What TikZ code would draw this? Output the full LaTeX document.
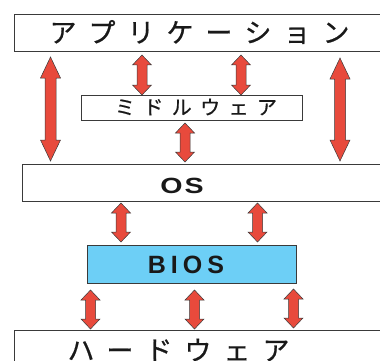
\documentclass[tikz,border=0pt]{standalone}
\usepackage{fontspec}
\newfontfamily\jpfont[FakeBold=0.6]{Noto Sans CJK JP}
\newfontfamily\latinwide[FakeStretch=1.3]{Liberation Sans}
\newfontfamily\latinfont{Liberation Sans}
\usetikzlibrary{calc}

\definecolor{arrowred}{HTML}{E84A3C}
\definecolor{edgegray}{HTML}{3A3A3A}
\definecolor{biosblue}{HTML}{6DCFF6}

% letter-spaced text: gap inserted between characters, none after the last
\makeatletter
\newcommand\spreadtext[2]{\def\spread@gap{#1}\spread@loop#2\relax}
\def\spread@loop#1{#1\futurelet\spread@next\spread@check}
\def\spread@check{\ifx\spread@next\relax\expandafter\spread@end\else\hspace{\spread@gap}\expandafter\spread@loop\fi}
\def\spread@end\relax{}
\makeatother

% vertical double block arrow between two tip points
% #1 upper tip, #2 lower tip, #3 half shaft, #4 half head, #5 head length
\newcommand\dblarrow[5]{%
  \filldraw[arrowbody] let \p1=(#1), \p2=(#2) in
    (\p1) -- (\x1+#4,\y1-#5) -- (\x1+#3,\y1-#5) -- (\x1+#3,\y2+#5)
    -- (\x1+#4,\y2+#5) -- (\p2) -- (\x1-#4,\y2+#5) -- (\x1-#3,\y2+#5)
    -- (\x1-#3,\y1-#5) -- (\x1-#4,\y1-#5) -- cycle;}

\tikzset{
  layer/.style={draw=edgegray, line width=0.9pt, fill=white, inner sep=0pt},
  label/.style={inner sep=0pt, text=black!90},
  arrowbody/.style={fill=arrowred, draw=edgegray, line width=0.5pt, line join=miter},
}

\begin{document}
\begin{tikzpicture}[x=1pt, y=-1pt]
\useasboundingbox (0,0) rectangle (380,361);
\clip (0,0) rectangle (380,361);

% layers
\node[layer, minimum width=390pt, minimum height=37pt] (app) at (209,32.5) {};
\node[layer, minimum width=221pt, minimum height=25pt] (mw) at (191.5,107.5) {};
\node[layer, minimum width=380pt, minimum height=37pt] (os) at (212,183) {};
\node[layer, fill=biosblue, minimum width=209pt, minimum height=38pt] (bios) at (191.5,264) {};
\node[layer, minimum width=390pt, minimum height=40pt] (hw) at (209,350) {};

% layer names
\node[label, font=\jpfont\fontsize{27}{27}\selectfont] (appname) at (199.5,32) {\spreadtext{12pt}{アプリケーション}};
\node[label, font=\jpfont\fontsize{20}{20}\selectfont] (mwname) at (196,107) {\spreadtext{8.4pt}{ミドルウェア}};
\node[label, font=\latinwide\bfseries\fontsize{22}{22}\selectfont, anchor=base] (osname) at (182,193) {\spreadtext{2pt}{OS}};
\node[label, font=\latinfont\bfseries\fontsize{25}{25}\selectfont, anchor=base] (biosname) at (186,273) {\spreadtext{5pt}{BIOS}};
\node[label, font=\jpfont\fontsize{27}{27}\selectfont] (hwname) at (178.5,350) {\spreadtext{12pt}{ハードウェア}};

% arrow tips
\coordinate (a1t) at (50.5,57);  \coordinate (a1b) at (50.5,161);
\coordinate (a2t) at (340,58);   \coordinate (a2b) at (340,161);
\coordinate (b1t) at (142,55);   \coordinate (b1b) at (142,95);
\coordinate (b2t) at (241,55);   \coordinate (b2b) at (241,95);
\coordinate (c1t) at (185,123);  \coordinate (c1b) at (185,162);
\coordinate (d1t) at (121,203);  \coordinate (d1b) at (121,242);
\coordinate (d2t) at (257.5,203);\coordinate (d2b) at (257.5,242);
\coordinate (e1t) at (90.5,290); \coordinate (e1b) at (90.5,329);
\coordinate (e2t) at (194.5,290);\coordinate (e2b) at (194.5,329);
\coordinate (e3t) at (293.5,289);\coordinate (e3b) at (293.5,328);

% application <-> OS
\dblarrow{a1t}{a1b}{5.5pt}{10pt}{21pt}
\dblarrow{a2t}{a2b}{5.5pt}{10pt}{21pt}
% application <-> middleware
\dblarrow{b1t}{b1b}{5pt}{9.5pt}{10pt}
\dblarrow{b2t}{b2b}{5pt}{9.5pt}{10pt}
% middleware <-> OS
\dblarrow{c1t}{c1b}{5pt}{9.5pt}{10pt}
% OS <-> BIOS
\dblarrow{d1t}{d1b}{5pt}{9.5pt}{10pt}
\dblarrow{d2t}{d2b}{5pt}{9.5pt}{10pt}
% BIOS <-> hardware
\dblarrow{e1t}{e1b}{5pt}{9.5pt}{10pt}
\dblarrow{e2t}{e2b}{5pt}{9.5pt}{10pt}
\dblarrow{e3t}{e3b}{5pt}{9.5pt}{10pt}
\end{tikzpicture}
\end{document}
